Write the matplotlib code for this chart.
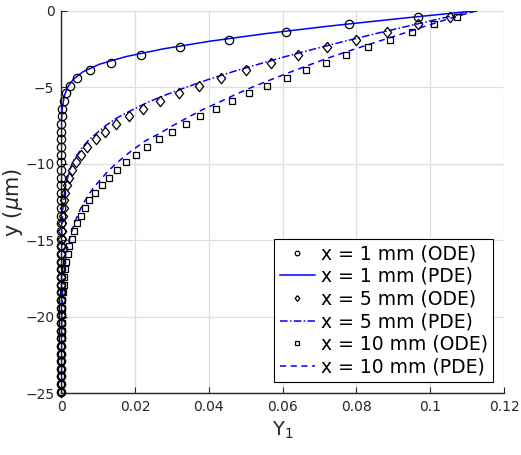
import numpy as np
import matplotlib.pyplot as plt

# depth grid of the ODE markers (um)
y_ode = [-0.4, -0.9, -1.4, -1.9, -2.4, -2.9, -3.4, -3.9, -4.4, -4.9,
         -5.4, -5.9, -6.4, -6.9, -7.4, -7.9, -8.4, -8.9, -9.4, -9.9,
         -10.4, -10.9, -11.4, -11.9, -12.4, -12.9, -13.4, -13.9, -14.4, -14.9,
         -15.4, -15.9, -16.4, -16.9, -17.4, -17.9, -18.4, -18.9, -19.4, -19.9,
         -20.4, -20.9, -21.4, -21.9, -22.4, -22.9, -23.4, -23.9, -24.4, -24.9]

x1_ode = [0.0967, 0.0780, 0.0608, 0.0454, 0.0322, 0.0215, 0.0135, 0.0078, 0.0043, 0.0024,
          0.0012, 0.0006, 0.0003, 0.0001, 0.0, 0.0, 0.0, 0.0, 0.0, 0.0,
          0.0, 0.0, 0.0, 0.0, 0.0, 0.0, 0.0, 0.0, 0.0, 0.0,
          0.0, 0.0, 0.0, 0.0, 0.0, 0.0, 0.0, 0.0, 0.0, 0.0,
          0.0, 0.0, 0.0, 0.0, 0.0, 0.0, 0.0, 0.0, 0.0, 0.0]

x5_ode = [0.1053, 0.0966, 0.0882, 0.0799, 0.0720, 0.0642, 0.0569, 0.0501, 0.0434, 0.0374,
          0.0319, 0.0268, 0.0222, 0.0183, 0.0147, 0.0118, 0.0093, 0.0070, 0.0053, 0.0040,
          0.0028, 0.0021, 0.0015, 0.0011, 0.0008, 0.0006, 0.0004, 0.0003, 0.0002, 0.0001,
          0.0, 0.0, 0.0, 0.0, 0.0, 0.0, 0.0, 0.0, 0.0, 0.0,
          0.0, 0.0, 0.0, 0.0, 0.0, 0.0, 0.0, 0.0, 0.0, 0.0]

x10_ode = [0.1073, 0.1010, 0.0950, 0.0890, 0.0831, 0.0773, 0.0717, 0.0663, 0.0611, 0.0558,
           0.0509, 0.0463, 0.0419, 0.0376, 0.0337, 0.0299, 0.0264, 0.0231, 0.0202, 0.0175,
           0.0150, 0.0128, 0.0110, 0.0091, 0.0076, 0.0063, 0.0052, 0.0043, 0.0035, 0.0028,
           0.0022, 0.0017, 0.0013, 0.0010, 0.0008, 0.0006, 0.0004, 0.0003, 0.0002, 0.0002,
           0.0001, 0.0001, 0.0001, 0.0, 0.0, 0.0, 0.0, 0.0, 0.0, 0.0]

# depth grid of the PDE curves (um)
y_pde = [0.0, -0.5, -1.0, -1.5, -2.0, -2.5, -3.0, -3.5, -4.0, -4.5,
         -5.0, -5.5, -6.0, -6.5, -7.0, -7.5, -8.0, -8.5, -9.0, -9.5,
         -10.0, -10.5, -11.0, -11.5, -12.0, -12.5, -13.0, -13.5, -14.0, -14.5,
         -15.0, -15.5, -16.0, -16.5, -17.0, -17.5, -18.0, -18.5, -19.0, -19.5,
         -20.0, -20.5, -21.0, -21.5, -22.0, -22.5, -23.0, -23.5, -24.0, -24.5, -25.0]

x1_pde = [0.1126, 0.0922, 0.0728, 0.0553, 0.0401, 0.0275, 0.0175, 0.0103, 0.0058, 0.0032,
          0.0017, 0.0009, 0.0005, 0.0002, 0.0001, 0.0, 0.0, 0.0, 0.0, 0.0,
          0.0, 0.0, 0.0, 0.0, 0.0, 0.0, 0.0, 0.0, 0.0, 0.0,
          0.0, 0.0, 0.0, 0.0, 0.0, 0.0, 0.0, 0.0, 0.0, 0.0,
          0.0, 0.0, 0.0, 0.0, 0.0, 0.0, 0.0, 0.0, 0.0, 0.0, 0.0]

x5_pde = [0.1126, 0.1030, 0.0941, 0.0852, 0.0767, 0.0686, 0.0607, 0.0534, 0.0463, 0.0398,
          0.0339, 0.0283, 0.0233, 0.0191, 0.0151, 0.0121, 0.0096, 0.0072, 0.0055, 0.0041,
          0.0029, 0.0022, 0.0016, 0.0011, 0.0008, 0.0006, 0.0004, 0.0003, 0.0002, 0.0001,
          0.0001, 0.0, 0.0, 0.0, 0.0, 0.0, 0.0, 0.0, 0.0, 0.0,
          0.0, 0.0, 0.0, 0.0, 0.0, 0.0, 0.0, 0.0, 0.0, 0.0, 0.0]

x10_pde = [0.1126, 0.1054, 0.0988, 0.0925, 0.0860, 0.0796, 0.0734, 0.0677, 0.0622, 0.0569,
           0.0517, 0.0470, 0.0426, 0.0380, 0.0341, 0.0303, 0.0268, 0.0228, 0.0199, 0.0172,
           0.0148, 0.0126, 0.0108, 0.0089, 0.0075, 0.0062, 0.0051, 0.0042, 0.0034, 0.0027,
           0.0021, 0.0017, 0.0013, 0.0010, 0.0008, 0.0006, 0.0004, 0.0003, 0.0002, 0.0002,
           0.0001, 0.0001, 0.0001, 0.0, 0.0, 0.0, 0.0, 0.0, 0.0, 0.0, 0.0]

x_ticks = [0, 0.02, 0.04, 0.06, 0.08, 0.1, 0.12]
x_tick_labels = ['0', '0.02', '0.04', '0.06', '0.08', '0.1', '0.12']
y_ticks = [0, -5, -10, -15, -20, -25]

labels = ['x = 1 mm (ODE)', 'x = 1 mm (PDE)',
          'x = 5 mm (ODE)', 'x = 5 mm (PDE)',
          'x = 10 mm (ODE)', 'x = 10 mm (PDE)']

plt.rcParams['font.family'] = ['DejaVu Sans']
txt_col = '#262626'

# matlab style diamond (wider than mpl 'd')
diamond = [(0, 1), (0.8, 0), (0, -1), (-0.8, 0), (0, 1)]

fig = plt.figure(figsize=(5.21, 4.55), dpi=100)
ax = fig.add_axes([0.1177, 0.1356, 0.8497, 0.8409])

mk = dict(linestyle='none', markerfacecolor='none', markeredgecolor='black',
          markeredgewidth=0.9, clip_on=False)
ax.plot(x1_ode, y_ode, marker='o', markersize=6, label=labels[0], zorder=3, **mk)
ax.plot(x1_pde, y_pde, color='blue', linestyle='-', linewidth=1.1, label=labels[1])
ax.plot(x5_ode, y_ode, marker=diamond, markersize=7.5, label=labels[2], zorder=3, **mk)
ax.plot(x5_pde, y_pde, color='blue', linestyle=(0, (5, 1.5, 1, 1.5)), linewidth=1.1, label=labels[3])
ax.plot(x10_ode, y_ode, marker='s', markersize=5, label=labels[4], zorder=3, **mk)
ax.plot(x10_pde, y_pde, color='blue', linestyle=(0, (4, 3)), linewidth=1.1, label=labels[5])

ax.set_xlim(0, 0.12)
ax.set_ylim(-25, 0)
ax.set_xticks(x_ticks)
ax.set_xticklabels(x_tick_labels)
ax.set_yticks(y_ticks)
ax.grid(True, color='#dedede', linewidth=0.9)
ax.set_axisbelow(True)

for s in ['top', 'right']:
    ax.spines[s].set_visible(False)
for s in ['left', 'bottom']:
    ax.spines[s].set_color(txt_col)
    ax.spines[s].set_linewidth(1.0)
ax.tick_params(direction='in', length=4, width=0.8, colors=txt_col, labelsize=10, pad=5)

ax.set_xlabel('Y$_1$', fontsize=14, color=txt_col, labelpad=4)
ax.set_ylabel(r'y ($\mu$m)', fontsize=15, color=txt_col, labelpad=0)

leg = ax.legend(loc='lower right', bbox_to_anchor=(0.976, 0.03), fontsize=13.5,
                frameon=True, fancybox=False, edgecolor='black', framealpha=1,
                handlelength=1.9, handletextpad=0.3, borderpad=0.3,
                labelspacing=0.19, markerscale=0.55, borderaxespad=0)
leg.get_frame().set_linewidth(0.8)

plt.savefig('out.png', dpi=100)
